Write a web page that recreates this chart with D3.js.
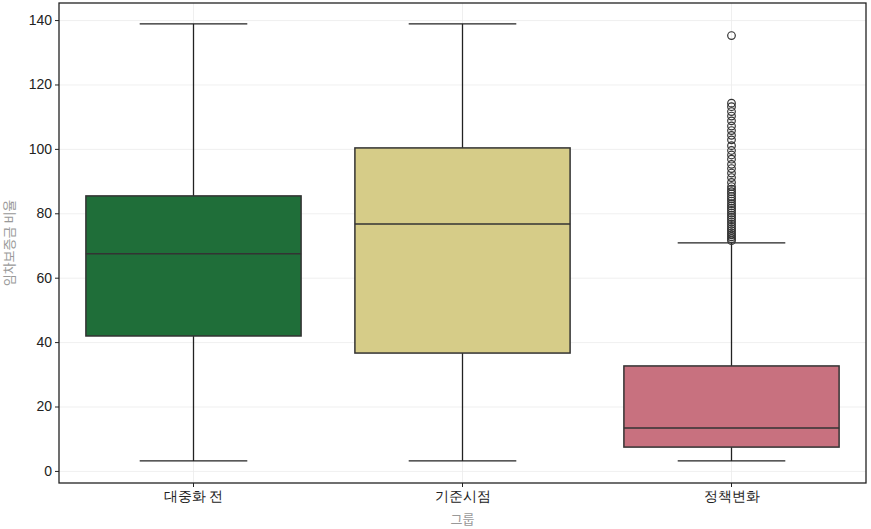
<!DOCTYPE html>
<html>
<head>
<meta charset="utf-8">
<script src="https://cdn.jsdelivr.net/npm/d3@7"></script>
<style>
  body { margin: 0; background: #fff; }
  svg { display: block; font-family: "Noto Sans CJK KR", "Noto Sans", sans-serif; }
  .grid line { stroke: #ebebeb; stroke-width: 0.8; }
  .grid path { display: none; }
  .axis text { font-size: 14px; fill: #222; }
  .axis line, .axis path { stroke: #222; }
</style>
</head>
<body>
<svg id="chart" width="871" height="529"></svg>
<script>
// groups and their box stats
var groups = ["대중화 전", "기준시점", "정책변화"];
var colors = ["#1f6e39", "#d6cc88", "#c8717f"];
var whiskLo = [3.1, 3.1, 3.1];
var q1 = [41.9, 36.6, 7.4];
var median = [67.4, 76.7, 13.3];
var q3 = [85.4, 100.3, 32.6];
var whiskHi = [138.8, 138.8, 70.8];

// outliers of 정책변화
var outliers = [135.2, 114.2, 113.1, 111.6, 110.2, 108.7, 107.1, 105.7, 104.2,
  102.8, 101.0, 99.5, 98.1, 96.8, 95.2, 93.9, 92.5, 91.1, 89.6, 88.3, 87.5,
  86.7, 86.0, 85.2, 84.5, 83.8, 83.0, 82.3, 81.6, 80.9, 80.1, 79.4, 78.7,
  78.0, 77.3, 76.6, 75.9, 75.2, 74.6, 73.9, 73.3, 72.7, 72.1, 71.5];

var yTicks = [0, 20, 40, 60, 80, 100, 120, 140];

var svg = d3.select("#chart");
var L = 59, R = 866, T = 3, B = 483;

var x = d3.scaleBand().domain(groups).range([L, R]).padding(0);
var y = d3.scaleLinear().domain([-3.75, 145.3]).range([B, T]);

// grid
svg.append("g").attr("class", "grid")
  .attr("transform", "translate(" + L + ",0)")
  .call(d3.axisLeft(y).tickValues(yTicks).tickSize(-(R - L)).tickFormat(""));
svg.append("g").attr("class", "grid")
  .attr("transform", "translate(0," + B + ")")
  .call(d3.axisBottom(x).tickSize(-(B - T)).tickFormat(""));

var bw = x.bandwidth() * 0.8;
var g = svg.append("g");

groups.forEach(function(d, i) {
  var cx = x(d) + x.bandwidth() / 2;
  // whiskers
  g.append("line").attr("x1", cx).attr("x2", cx)
    .attr("y1", y(q3[i])).attr("y2", y(whiskHi[i]))
    .attr("stroke", "#222").attr("stroke-width", 1.3);
  g.append("line").attr("x1", cx).attr("x2", cx)
    .attr("y1", y(q1[i])).attr("y2", y(whiskLo[i]))
    .attr("stroke", "#222").attr("stroke-width", 1.3);
  // caps
  [whiskHi[i], whiskLo[i]].forEach(function(v) {
    g.append("line").attr("x1", cx - bw / 4).attr("x2", cx + bw / 4)
      .attr("y1", y(v)).attr("y2", y(v))
      .attr("stroke", "#222").attr("stroke-width", 1.3);
  });
  // box
  g.append("rect")
    .attr("x", cx - bw / 2).attr("width", bw)
    .attr("y", y(q3[i])).attr("height", y(q1[i]) - y(q3[i]))
    .attr("fill", colors[i]).attr("stroke", "#333").attr("stroke-width", 1.5);
  g.append("line").attr("x1", cx - bw / 2).attr("x2", cx + bw / 2)
    .attr("y1", y(median[i])).attr("y2", y(median[i]))
    .attr("stroke", "#333").attr("stroke-width", 1.5);
});

var cxo = x(groups[2]) + x.bandwidth() / 2;
g.selectAll("circle.out").data(outliers).enter().append("circle")
  .attr("class", "out")
  .attr("cx", cxo).attr("cy", function(d) { return y(d); })
  .attr("r", 3.8)
  .attr("fill", "none").attr("stroke", "#333").attr("stroke-width", 1.2);

// frame
svg.append("rect").attr("x", L).attr("y", T).attr("width", R - L).attr("height", B - T)
  .attr("fill", "none").attr("stroke", "#222").attr("stroke-width", 1.3);

// axes
svg.append("g").attr("class", "axis")
  .attr("transform", "translate(" + L + ",0)")
  .call(d3.axisLeft(y).tickValues(yTicks).tickSize(4).tickPadding(3))
  .call(function(s) { s.select(".domain").remove(); });
svg.append("g").attr("class", "axis")
  .attr("transform", "translate(0," + B + ")")
  .call(d3.axisBottom(x).tickSize(4).tickPadding(4))
  .call(function(s) { s.select(".domain").remove(); });

svg.append("text").attr("x", (L + R) / 2).attr("y", 524)
  .attr("text-anchor", "middle").attr("font-size", 13).attr("fill", "#999")
  .text("그룹");
svg.append("text")
  .attr("transform", "translate(8," + ((T + B) / 2) + ") rotate(-90)")
  .attr("text-anchor", "middle").attr("dominant-baseline", "central")
  .attr("font-size", 13).attr("fill", "#999")
  .text("임차보증금 비율");
</script>
</body>
</html>
